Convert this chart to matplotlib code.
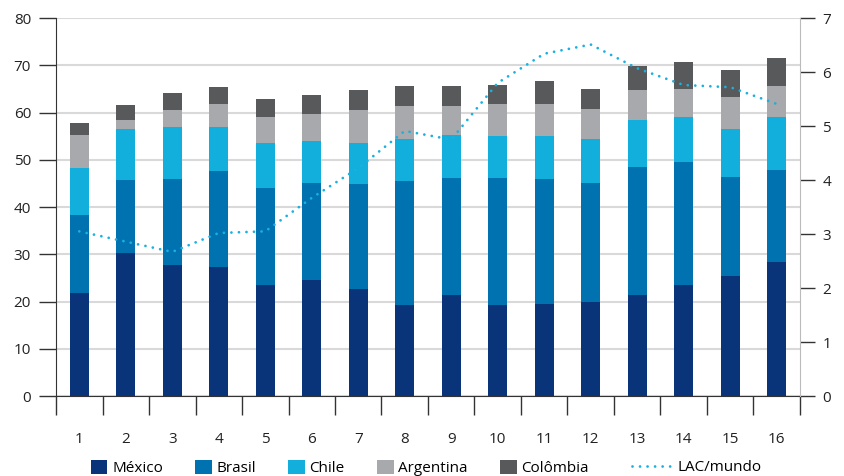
import matplotlib.pyplot as plt
import numpy as np

plt.rcParams['font.family'] = ['Open Sans', 'DejaVu Sans']

# -------------------------------------------------------------
# Dados
# -------------------------------------------------------------
categorias = [str(i) for i in range(1, 17)]
mexico = [21.9, 30.3, 27.8, 27.4, 23.4, 24.6, 22.7, 19.3, 21.4, 19.3, 19.5, 20.0, 21.4, 23.6, 25.5, 28.4]
brasil = [16.5, 15.5, 18.2, 20.3, 20.7, 20.5, 22.2, 26.3, 24.8, 26.9, 26.5, 25.1, 27.1, 26.0, 20.9, 19.5]
chile = [9.9, 10.8, 11.0, 9.3, 9.5, 8.9, 8.7, 8.9, 9.1, 8.9, 9.1, 9.4, 10.0, 9.5, 10.2, 11.2]
argentina = [7.0, 1.9, 3.6, 4.9, 5.5, 5.8, 7.0, 6.9, 6.1, 6.8, 6.8, 6.3, 6.3, 5.9, 6.8, 6.6]
colombia = [2.5, 3.2, 3.6, 3.6, 3.8, 4.0, 4.2, 4.3, 4.3, 4.0, 4.8, 4.2, 5.1, 5.8, 5.7, 5.9]
lac_mundo = [3.05, 2.86, 2.67, 3.02, 3.05, 3.67, 4.22, 4.91, 4.75, 5.80, 6.34, 6.51, 6.07, 5.76, 5.72, 5.41]

series = [
    ("México", mexico, "#0a347a"),
    ("Brasil", brasil, "#0072b0"),
    ("Chile", chile, "#12afdc"),
    ("Argentina", argentina, "#a7a9ac"),
    ("Colômbia", colombia, "#58595b"),
]

# -------------------------------------------------------------
# Figura
# -------------------------------------------------------------
fig = plt.figure(figsize=(8.45, 4.76), dpi=100)
ax = fig.add_axes([0.0663, 0.168, 0.8804, 0.794])
ax2 = ax.twinx()

x = np.arange(len(categorias)) + 0.5
base = np.zeros(len(categorias))
for nome, vals, cor in series:
    ax.bar(x, vals, width=0.41, bottom=base, color=cor, label=nome, zorder=3)
    base += np.array(vals)

pontilhado = (0, (0.01, 2.7))
linha, = ax2.plot(x, lac_mundo, color="#1ab0e0", lw=2.0, linestyle=pontilhado,
                  dash_capstyle="round", label="LAC/mundo", zorder=4)

ax.set_xlim(0, 16)
ax.set_ylim(0, 80)
ax2.set_ylim(0, 7)
ax.set_yticks(range(0, 81, 10))
ax2.set_yticks(range(0, 8))

ax.grid(axis="y", color="#d9d9d9", lw=1.5, zorder=0)
ax.set_axisbelow(True)

ax.set_xticks(x)
ax.set_xticklabels(categorias)
ax.set_xticks(np.arange(0, 17), minor=True)
ax.tick_params(axis="x", which="major", length=0, pad=26, labelsize=11, colors="#222222")
ax.tick_params(axis="x", which="minor", length=14, width=1, color="#333333")
ax.tick_params(axis="y", length=12, width=1, pad=6, labelsize=11, color="#333333", labelcolor="#222222")
ax2.tick_params(axis="y", length=11, width=1, pad=5, labelsize=11, color="#333333", labelcolor="#222222")

for a in (ax, ax2):
    a.spines["top"].set_visible(False)
ax.spines["left"].set_color("#333333")
ax.spines["bottom"].set_color("#333333")
ax2.spines["left"].set_visible(False)
ax2.spines["bottom"].set_visible(False)
ax2.spines["right"].set_color("#bbbbbb")
ax.spines["right"].set_visible(False)

# legenda das barras
handles, labels = ax.get_legend_handles_labels()
fig.legend(handles, labels, loc="center", bbox_to_anchor=(0.402, 0.017), ncol=5,
           frameon=False, fontsize=11, handlelength=1.1, handleheight=1.1,
           handletextpad=0.3, columnspacing=2.1, borderaxespad=0, borderpad=0)

# legenda da linha
fig.legend([linha], ["LAC/mundo"], loc="center", bbox_to_anchor=(0.825, 0.017),
           frameon=False, fontsize=11, handlelength=2.7, handletextpad=0.3,
           borderaxespad=0, borderpad=0)

fig.savefig("out.png", dpi=100)
